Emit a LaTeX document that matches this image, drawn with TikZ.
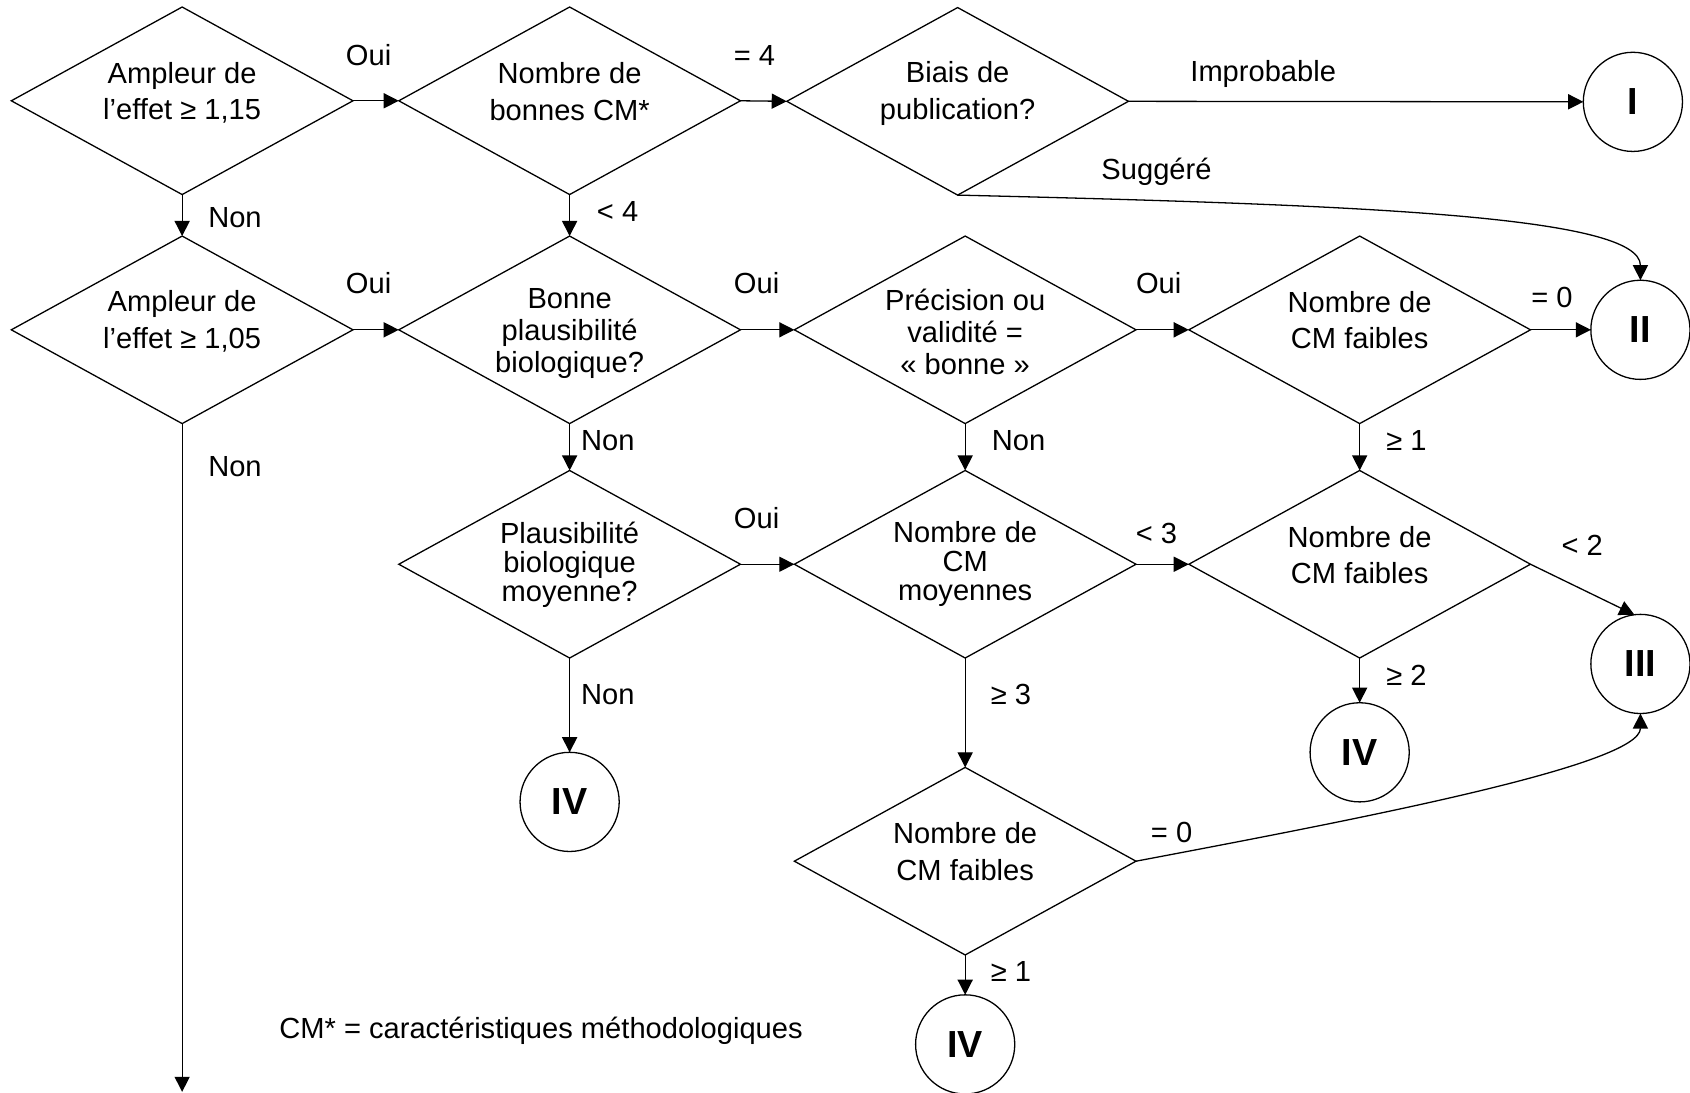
\documentclass[tikz,border=0pt]{standalone}
\usepackage{fontspec}
\setmainfont{Liberation Sans}
\usetikzlibrary{shapes.geometric, arrows.meta}
\tikzstyle{arrow} = [line width=0.6pt,-{Triangle[length=7pt,width=7pt]}]
\tikzstyle{decision} = [draw, diamond, line width=0.6pt, minimum width=158.5pt, minimum height=87pt, inner sep=0pt, outer sep=0pt]
\tikzstyle{verdict} = [draw, circle, line width=0.6pt, minimum size=46pt, inner sep=0pt, outer sep=0pt, font=\fontsize{17.5}{20}\selectfont\bfseries]
\tikzstyle{qtext} = [align=center, inner sep=0pt, font=\fontsize{13.5}{17}\selectfont]
\tikzstyle{qmid} = [qtext, font=\fontsize{13.5}{14.75}\selectfont]
\tikzstyle{qtight} = [qtext, font=\fontsize{13.5}{13.5}\selectfont]
\tikzstyle{branch} = [inner sep=0pt, font=\fontsize{13.5}{16}\selectfont, text height=9.7pt, text depth=0pt]

\begin{document}
\begin{tikzpicture}[x=0.5pt, y=-0.5pt]
  \useasboundingbox (0,0) rectangle (1568,1014);
  % questions
  \node[decision] (amp1) at (169,93.5) {};
  \node[decision] (nbcm) at (528.5,93.5) {};
  \node[decision] (biais) at (888.5,94) {};
  \node[decision] (amp2) at (169,306) {};
  \node[decision] (plaus) at (528.5,306) {};
  \node[decision] (prec) at (895.5,306) {};
  \node[decision] (faib1) at (1261.5,306) {};
  \node[decision] (plausmoy) at (528.5,523.5) {};
  \node[decision] (moy) at (895.5,523.5) {};
  \node[decision] (faib2) at (1261.5,523.5) {};
  \node[decision] (faib3) at (895.5,799) {};
  \node[qtext] (amp1txt) at (169,86) {Ampleur de\\l’effet ≥ 1,15};
  \node[qtext] (nbcmtxt) at (528.5,85) {Nombre de\\bonnes CM*};
  \node[qtext] (biaistxt) at (888.5,87) {Biais de\\publication?};
  \node[qtext] (amp2txt) at (169,298) {Ampleur de\\l’effet ≥ 1,05};
  \node[qmid] (plaustxt) at (528.5,309.5) {Bonne\\plausibilité\\biologique?};
  \node[qmid] (prectxt) at (895.5,308) {Précision ou\\validité =\\« bonne »};
  \node[qtext] (faib1txt) at (1261.5,297) {Nombre de\\CM faibles};
  \node[qtight] (plausmoytxt) at (528.5,524) {Plausibilité\\biologique\\moyenne?};
  \node[qtight] (moytxt) at (895.5,523) {Nombre de\\CM\\moyennes};
  \node[qtext] (faib2txt) at (1261.5,515) {Nombre de\\CM faibles};
  \node[qtext] (faib3txt) at (895.5,790) {Nombre de\\CM faibles};
  % niveaux
  \node[verdict] (i) at (1515,94.5) {I};
  \node[verdict] (ii) at (1522,306) {II};
  \node[verdict] (iii) at (1522,616) {III};
  \node[verdict] (iv1) at (528.5,744) {IV};
  \node[verdict] (iv2) at (1261.5,698) {IV};
  \node[verdict] (iv3) at (895.5,969) {IV};
  \coordinate (fin) at (169,1013);
  % connecteurs
  \draw[arrow] (amp1.east) -- (nbcm.west);
  \draw[arrow] (nbcm.east) -- (biais.west);
  \draw[arrow] (biais.east) -- (i);
  \draw[arrow] (biais.south) .. controls (1260,190) and (1522,200) .. (ii.north);
  \draw[arrow] (amp1.south) -- (amp2.north);
  \draw[arrow] (nbcm.south) -- (plaus.north);
  \draw[arrow] (amp2.east) -- (plaus.west);
  \draw[arrow] (plaus.east) -- (prec.west);
  \draw[arrow] (prec.east) -- (faib1.west);
  \draw[arrow] (faib1.east) -- (ii.west);
  \draw[arrow] (amp2.south) -- (fin);
  \draw[arrow] (plaus.south) -- (plausmoy.north);
  \draw[arrow] (prec.south) -- (moy.north);
  \draw[arrow] (faib1.south) -- (faib2.north);
  \draw[arrow] (plausmoy.east) -- (moy.west);
  \draw[arrow] (moy.east) -- (faib2.west);
  \draw[arrow] (faib2.east) -- (iii.97);
  \draw[arrow] (plausmoy.south) -- (iv1.north);
  \draw[arrow] (moy.south) -- (faib3.north);
  \draw[arrow] (faib2.south) -- (iv2.north);
  \draw[arrow] (faib3.south) -- (iv3.north);
  \draw[arrow] (faib3.east) .. controls (1260,760) and (1522,710) .. (iii.south);
  % etiquettes
  \node[branch] (oui1) at (342,51) {Oui};
  \node[branch] (eg4) at (700,51) {= 4};
  \node[branch] (improb) at (1172,66) {Improbable};
  \node[branch] (sugg) at (1073,157) {Suggéré};
  \node[branch] (non1) at (218,201) {Non};
  \node[branch] (inf4) at (573,196) {< 4};
  \node[branch] (oui2) at (342,263) {Oui};
  \node[branch] (oui3) at (702,263) {Oui};
  \node[branch] (oui4) at (1075,263) {Oui};
  \node[branch] (eg0a) at (1440,276) {= 0};
  \node[branch] (non2) at (564,408) {Non};
  \node[branch] (non3) at (945,408) {Non};
  \node[branch] (sup1a) at (1305,408) {≥ 1};
  \node[branch] (non4) at (218,432) {Non};
  \node[branch] (oui5) at (702,481) {Oui};
  \node[branch] (inf3) at (1073,495) {< 3};
  \node[branch] (inf2) at (1468,506) {< 2};
  \node[branch] (non5) at (564,644) {Non};
  \node[branch] (sup3) at (938,644) {≥ 3};
  \node[branch] (sup2) at (1305,626) {≥ 2};
  \node[branch] (eg0b) at (1087,772) {= 0};
  \node[branch] (sup1b) at (938,901) {≥ 1};
  \node[branch] (note) at (502,954) {CM* = caractéristiques méthodologiques};
\end{tikzpicture}
\end{document}
